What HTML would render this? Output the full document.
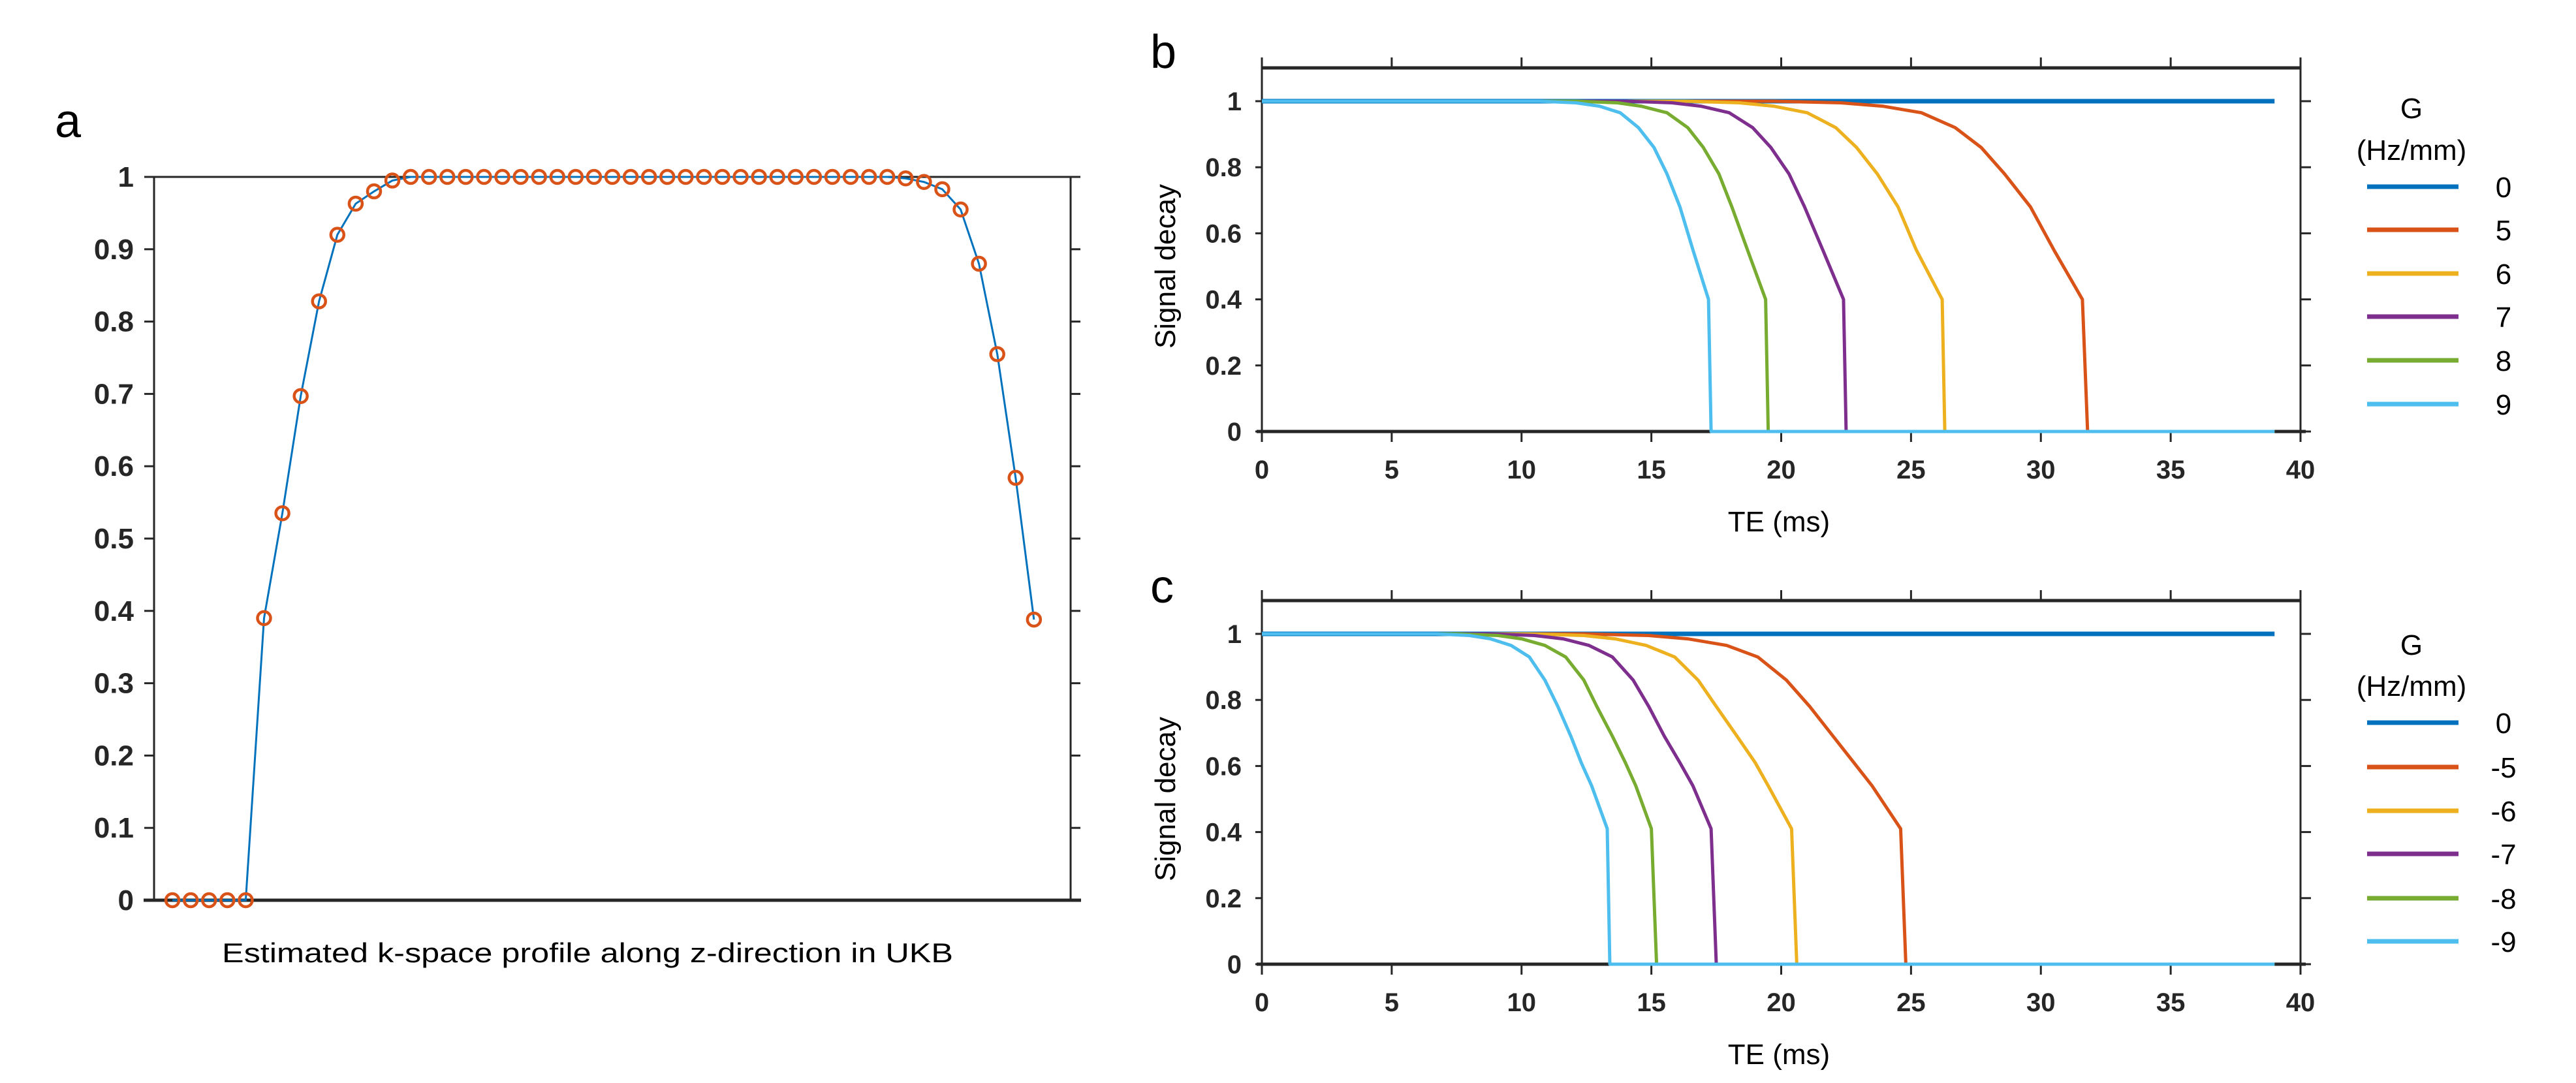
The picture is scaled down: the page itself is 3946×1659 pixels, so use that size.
<!DOCTYPE html>
<html><head><meta charset="utf-8"><style>
html,body{margin:0;padding:0;background:#fff;}
svg{display:block;font-family:"Liberation Sans",sans-serif;}
</style></head><body>
<svg id="fig" width="3946" height="1659" viewBox="0 0 3946 1659" xmlns="http://www.w3.org/2000/svg"></svg>
<script>
// ---- Panel a data ----
const aIndex = [1,2,3,4,5,6,7,8,9,10,11,12,13,14,15,16,17,18,19,20,21,22,23,24,25,26,27,28,29,30,31,32,33,34,35,36,37,38,39,40,41,42,43,44,45,46,47,48];
const aValues = [0,0,0,0,0,0.39,0.535,0.697,0.828,0.92,0.963,0.98,0.995,1,1,1,1,1,1,1,1,1,1,1,1,1,1,1,1,1,1,1,1,1,1,1,1,1,1,1,0.998,0.993,0.983,0.955,0.88,0.755,0.584,0.388];
const aYTicks = [0,0.1,0.2,0.3,0.4,0.5,0.6,0.7,0.8,0.9,1];
const aYTickLabels = ["0","0.1","0.2","0.3","0.4","0.5","0.6","0.7","0.8","0.9","1"];

// ---- Panels b / c shared ticks ----
const teTicks = [0,5,10,15,20,25,30,35,40];
const sigTicks = [0,0.2,0.4,0.6,0.8,1];
const sigTickLabels = ["0","0.2","0.4","0.6","0.8","1"];
const colors = ["#0072BD","#D95319","#EDB120","#7E2F8E","#77AC30","#4DBEEE"];

// ---- Panel b data ----
const bLabels = ["0","5","6","7","8","9"];
const bTE0 = [0,39];
const bV0 = [1,1];
const bTE5 = [0,19.7,22.3,23.9,25.4,26.7,27.7,28.6,29.6,30.5,31.6,31.8,39];
const bTE6 = [0,16.3,18.4,19.7,21.0,22.1,22.9,23.7,24.5,25.2,26.2,26.3,39];
const bTE7 = [0,14.0,15.8,16.9,18.0,18.9,19.6,20.3,20.9,21.6,22.4,22.5,39];
const bTE8 = [0,12.1,13.7,14.6,15.6,16.4,17.0,17.6,18.1,18.7,19.4,19.5,39];
const bTE9 = [0,10.7,12.1,13.0,13.8,14.5,15.1,15.6,16.1,16.6,17.2,17.3,39];
const bV = [1,1,0.995,0.985,0.965,0.92,0.86,0.78,0.68,0.55,0.40,0,0];

// ---- Panel c data ----
const cLabels = ["0","-5","-6","-7","-8","-9"];
const cTE0 = [0,39];
const cV0 = [1,1];
const cTE5 = [0,12.4,14.9,16.4,17.9,19.1,20.2,21.1,22.0,22.8,23.5,24.6,24.8,39];
const cTE6 = [0,10.3,12.4,13.6,14.8,15.9,16.8,17.5,18.3,19.0,19.5,20.4,20.6,39];
const cTE7 = [0,8.75,10.5,11.6,12.6,13.5,14.3,14.9,15.5,16.1,16.6,17.3,17.5,39];
const cTE8 = [0,7.6,9.1,10.0,10.9,11.7,12.4,12.9,13.5,14.0,14.4,15.0,15.2,39];
const cTE9 = [0,6.7,8.0,8.8,9.6,10.3,10.9,11.4,11.9,12.3,12.7,13.3,13.4,39];
const cV = [1,1,0.995,0.985,0.965,0.93,0.86,0.78,0.69,0.61,0.54,0.41,0,0];

const NS="http://www.w3.org/2000/svg";
const svg=document.getElementById('fig');
function mk(tag,attrs,parent){const e=document.createElementNS(NS,tag);for(const k in attrs)e.setAttribute(k,attrs[k]);(parent||svg).appendChild(e);return e;}
function txt(s,attrs,parent){const e=mk('text',attrs,parent);e.textContent=s;return e;}
const AX="#262626";

// ===== Panel a =====
(function(){
  const L=236,R=1640,T=271,B=1379;
  const x=v=>L+(v-0)/(50-0)*(R-L);
  const y=v=>B-v*(B-T);
  const g=mk('g',{});
  
  
  const lab=txt('a',{x:84,y:210,'font-size':72,fill:'#000'},g);
  
  
  const box=mk('rect',{x:L,y:T,width:R-L,height:B-T,fill:'none',stroke:AX,'stroke-width':3},g);
  
  
  mk('line',{x1:L-16,x2:R+16,y1:B,y2:B,stroke:AX,'stroke-width':5},g);
  mk('line',{x1:L,x2:R,y1:T,y2:T,stroke:AX,'stroke-width':3},g);
  aYTicks.forEach((t,i)=>{
    mk('line',{x1:L-15,x2:L,y1:y(t),y2:y(t),stroke:AX,'stroke-width':3},g);
    mk('line',{x1:R,x2:R+15,y1:y(t),y2:y(t),stroke:AX,'stroke-width':3},g);
    const tl=txt(aYTickLabels[i],{x:205,y:y(t)+15,'font-size':44,'font-weight':'bold','text-anchor':'end',fill:AX},g);
    
    
  });
  const pts=aIndex.map((k,i)=>x(k)+','+y(aValues[i])).join(' ');
  const pl=mk('polyline',{points:pts,fill:'none',stroke:colors[0],'stroke-width':3},g);
  
  
  aIndex.forEach((k,i)=>{
    const c=mk('circle',{cx:x(k),cy:y(aValues[i]),r:10,fill:'none',stroke:colors[1],'stroke-width':4.5},g);
    
    
  });
  const cap=txt('Estimated k-space profile along z-direction in UKB',{x:900,y:1474,'font-size':42,'text-anchor':'middle',fill:'#000',textLength:1120,lengthAdjust:'spacingAndGlyphs'},g);
  
  
})();

// ===== Panels b, c =====
function panel(name,letter,T,series,labels,legendY,gY,hzY,letterY){
  const L=1933,R=3524;
  const B=T+557;
  const y0=T+557; // value 0
  const x=v=>L+v/40*(R-L);
  const y=v=>y0-v*506;
  const g=mk('g',{});
  
  
  const lab=txt(letter,{x:1762,y:letterY+24,'font-size':72,fill:'#000'},g);
  
  
  const box=mk('rect',{x:L,y:T,width:R-L,height:B-T,fill:'none',stroke:AX,'stroke-width':3},g);
  
  
  mk('line',{x1:L,x2:R,y1:T,y2:T,stroke:AX,'stroke-width':5},g);
  mk('line',{x1:L-8,x2:R+8,y1:B,y2:B,stroke:AX,'stroke-width':5},g);
  teTicks.forEach(t=>{
    mk('line',{x1:x(t),x2:x(t),y1:T,y2:T-16,stroke:AX,'stroke-width':3},g);
    mk('line',{x1:x(t),x2:x(t),y1:B,y2:B+16,stroke:AX,'stroke-width':3},g);
    const tl=txt(String(t),{x:x(t),y:B+72,'font-size':40,'font-weight':'bold','text-anchor':'middle',fill:AX},g);
    
    
  });
  sigTicks.forEach((t,i)=>{
    mk('line',{x1:L-10,x2:L,y1:y(t),y2:y(t),stroke:AX,'stroke-width':3},g);
    mk('line',{x1:R,x2:R+16,y1:y(t),y2:y(t),stroke:AX,'stroke-width':3},g);
    const tl=txt(sigTickLabels[i],{x:1902,y:y(t)+14,'font-size':40,'font-weight':'bold','text-anchor':'end',fill:AX},g);
    
    
  });
  const xl=txt('TE (ms)',{x:2725,y:B+153,'font-size':44,'text-anchor':'middle',fill:'#000'},g);
  
  
  const yl=txt('Signal decay',{x:0,y:0,'font-size':44,'text-anchor':'middle',fill:'#000',transform:`translate(1800,${y(0.5)}) rotate(-90)`},g);
  
  
  series.forEach((s,i)=>{
    const pts=s[0].map((t,j)=>x(t)+','+y(s[1][j])).join(' ');
    const p=mk('polyline',{points:pts,fill:'none',stroke:colors[i],'stroke-width':i===0?7:5,'stroke-linejoin':'round'},g);
    
    
  });
  const gt=txt('G',{x:3694,y:gY+16,'font-size':44,'text-anchor':'middle',fill:'#000'},g);
  
  
  const ht=txt('(Hz/mm)',{x:3694,y:hzY+16,'font-size':44,'text-anchor':'middle',fill:'#000'},g);
  
  
  labels.forEach((lb,i)=>{
    const ly=legendY[i];
    const ln=mk('line',{x1:3626,x2:3766,y1:ly,y2:ly,stroke:colors[i],'stroke-width':7},g);
    
    
    const lt=txt(lb,{x:3835,y:ly+16,'font-size':44,'text-anchor':'middle',fill:'#000'},g);
    
    
  });
}
panel('panel-b','b',104,[[bTE0,bV0],[bTE5,bV],[bTE6,bV],[bTE7,bV],[bTE8,bV],[bTE9,bV]],bLabels,[286,352,419,485,552,619],165,229,80);
panel('panel-c','c',920,[[cTE0,cV0],[cTE5,cV],[cTE6,cV],[cTE7,cV],[cTE8,cV],[cTE9,cV]],cLabels,[1107,1175,1242,1308,1376,1442],987,1050,899);
</script>
</body></html>
